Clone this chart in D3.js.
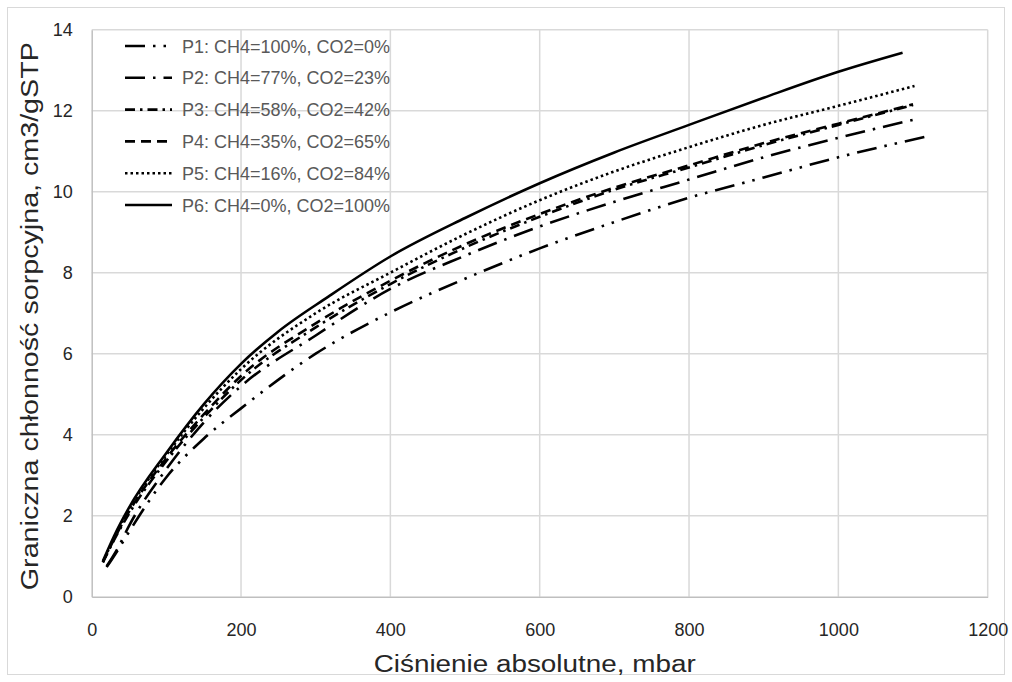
<!DOCTYPE html>
<html><head><meta charset="utf-8">
<script src="https://cdn.jsdelivr.net/npm/d3@7"></script>
<style>body{margin:0;background:#fff}svg{display:block}</style>
</head><body>
<svg id="c" width="1012" height="682"></svg>
<script>
const xTicks = [0,200,400,600,800,1000,1200];
const yTicks = [0,2,4,6,8,10,12,14];
const seriesNames = ["P1: CH4=100%, CO2=0%","P2: CH4=77%, CO2=23%","P3: CH4=58%, CO2=42%","P4: CH4=35%, CO2=65%","P5: CH4=16%, CO2=84%","P6: CH4=0%, CO2=100%"];
const p1x = [20,35,50,100,150,200,300,400,500,600,700,800,900,1000,1120];
const p1y = [0.73,1.15,1.6,2.95,3.9,4.65,6.0,7.02,7.85,8.6,9.25,9.85,10.35,10.85,11.37];
const p2x = [20,35,50,100,150,200,300,400,500,600,700,800,900,1000,1108];
const p2y = [0.75,1.2,1.75,3.15,4.3,5.2,6.45,7.6,8.42,9.14,9.75,10.3,10.85,11.33,11.81];
const p3x = [15,30,50,100,150,200,300,400,500,600,700,800,900,1000,1100];
const p3y = [0.85,1.4,2.05,3.35,4.42,5.35,6.65,7.72,8.62,9.38,10.05,10.6,11.15,11.65,12.14];
const p4x = [15,30,50,100,150,200,300,400,500,600,700,800,900,1000,1100];
const p4y = [0.85,1.42,2.1,3.42,4.5,5.45,6.75,7.8,8.7,9.45,10.1,10.65,11.2,11.68,12.16];
const p5x = [15,30,50,100,150,200,300,400,500,600,700,800,900,1000,1102];
const p5y = [0.85,1.45,2.15,3.5,4.65,5.62,7.0,8.0,8.95,9.79,10.5,11.1,11.65,12.12,12.61];
const p6x = [15,30,50,100,150,200,250,317,400,500,600,700,800,900,1000,1086];
const p6y = [0.88,1.5,2.2,3.55,4.75,5.75,6.55,7.41,8.4,9.35,10.21,10.97,11.65,12.32,12.96,13.43];

const seriesX = [p1x,p2x,p3x,p4x,p5x,p6x];
const seriesY = [p1y,p2y,p3y,p4y,p5y,p6y];
const dashes = ["20,8,2.5,8,2.5,8","20,8,2.5,8","10,5,2.5,5","10,6","2.5,3",null];

const svg = d3.select("#c");
const L=91.7, R=987.7, T=29.7, B=596.7;
const x = d3.scaleLinear().domain([0,1200]).range([L,R]);
const y = d3.scaleLinear().domain([0,14]).range([B,T]);
const font = "'Liberation Sans', Arial, sans-serif";

svg.append("rect").attr("x",7.5).attr("y",7.5).attr("width",997).attr("height",667)
  .attr("fill","none").attr("stroke","#d9d9d9").attr("stroke-width",1);

// gridlines
svg.append("g").selectAll("line").data(xTicks.slice(1)).join("line")
  .attr("x1",d=>x(d)).attr("x2",d=>x(d)).attr("y1",T).attr("y2",B)
  .attr("stroke","#d9d9d9").attr("stroke-width",1.5);
svg.append("g").selectAll("line").data(yTicks.slice(1)).join("line")
  .attr("x1",L).attr("x2",R).attr("y1",d=>y(d)).attr("y2",d=>y(d))
  .attr("stroke","#d9d9d9").attr("stroke-width",1.5);

// axes
const xAxis = svg.append("g").attr("transform",`translate(0,${B})`)
  .call(d3.axisBottom(x).tickValues(xTicks).tickFormat(d3.format("d")).tickSize(0).tickPadding(27));
const yAxis = svg.append("g").attr("transform",`translate(${L},0)`)
  .call(d3.axisLeft(y).tickValues(yTicks).tickFormat(d3.format("d")).tickSize(0).tickPadding(19));
[xAxis,yAxis].forEach(a=>{
  a.select(".domain").attr("stroke","#bfbfbf").attr("stroke-width",1.5);
  a.selectAll("text").attr("font-family",font).attr("font-size",18).attr("fill","#262626");
});

// lines
const line = d3.line().x(d=>x(d[0])).y(d=>y(d[1])).curve(d3.curveMonotoneX);
seriesX.forEach((xs,i)=>{
  const pts = xs.map((v,j)=>[v,seriesY[i][j]]);
  svg.append("path").datum(pts).attr("d",line).attr("fill","none")
    .attr("stroke","#000").attr("stroke-width",2.6)
    .attr("stroke-dasharray",dashes[i]);
});

// legend
const lg = svg.append("g");
seriesNames.forEach((n,i)=>{
  const yy = 46 + i*31.8;
  lg.append("line").attr("x1",125).attr("x2",172).attr("y1",yy).attr("y2",yy)
    .attr("stroke","#000").attr("stroke-width",2.6).attr("stroke-dasharray",dashes[i]);
  lg.append("text").attr("x",182).attr("y",yy+6.5).text(n)
    .attr("font-family",font).attr("font-size",18).attr("fill","#595959");
});

// titles
svg.append("text").attr("x",(L+R)/2-5).attr("y",672).attr("text-anchor","middle")
  .attr("font-family",font).attr("font-size",23).attr("fill","#262626")
  .attr("textLength",322).attr("lengthAdjust","spacingAndGlyphs")
  .text("Ciśnienie absolutne, mbar");
svg.append("text").attr("transform",`translate(38,${(T+B)/2+3}) rotate(-90)`)
  .attr("text-anchor","middle")
  .attr("font-family",font).attr("font-size",23).attr("fill","#262626")
  .attr("textLength",548).attr("lengthAdjust","spacingAndGlyphs")
  .text("Graniczna chłonność  sorpcyjna, cm3/gSTP");
</script>
</body></html>
